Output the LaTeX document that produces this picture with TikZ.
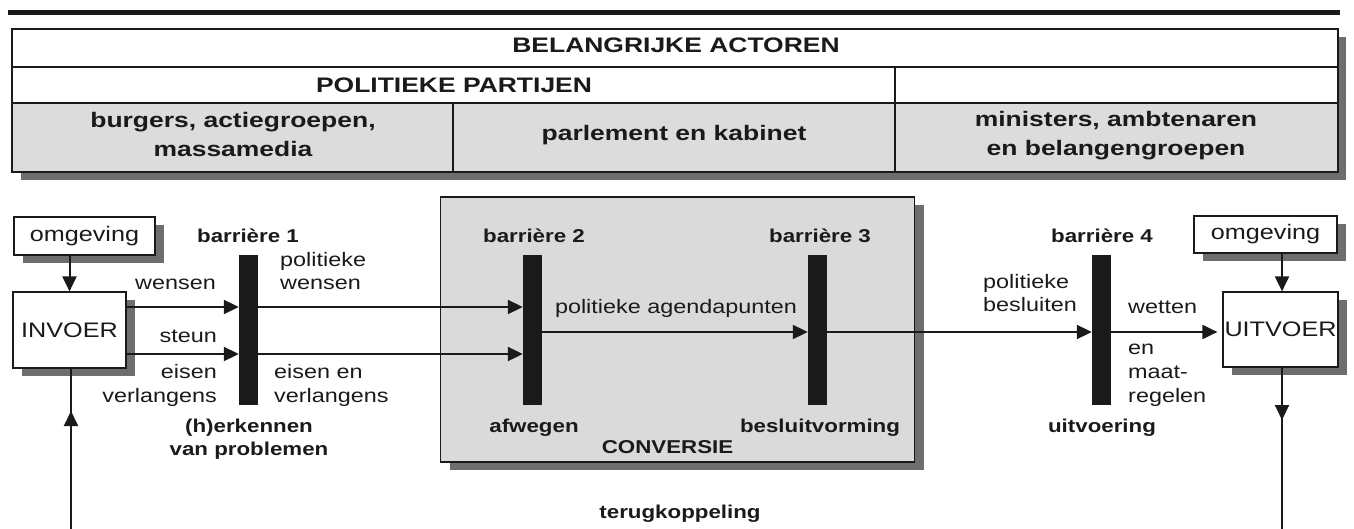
\documentclass[tikz,border=0pt]{standalone}
\usepackage{fontspec}
\setmainfont{Liberation Sans}[FakeStretch=1.2]
\newfontfamily\tabfont{Liberation Sans}[FakeStretch=1.26]
\usetikzlibrary{arrows.meta,shadows,calc}
\definecolor{shadowgray}{HTML}{6E6E6E}
\definecolor{rowgray}{HTML}{DCDCDC}
\definecolor{convgray}{HTML}{DADADA}
\definecolor{ink}{HTML}{1A1A1A}
\tikzset{
  lbl/.style={font=\fontsize{19.5}{24}\selectfont, inner sep=0pt, text=ink},
  blbl/.style={font=\fontsize{18.6}{22.5}\selectfont\bfseries, inner sep=0pt, text=ink},
  tabtxt/.style={font=\tabfont\fontsize{21}{29}\selectfont\bfseries, inner sep=0pt, text=ink, align=center},
  shadowbox/.style={draw=ink, line width=1.2pt, inner sep=0pt, text=ink,
     drop shadow={shadow xshift=9pt, shadow yshift=-8pt, fill=shadowgray, opacity=1}},
  bigbox/.style={shadowbox, fill=white, font=\fontsize{21}{25}\selectfont},
  barblk/.style={fill=ink, draw=none, minimum width=19pt, minimum height=150pt, inner sep=0pt},
  conn/.style={line width=2pt, draw=ink},
  arr/.style={conn, -{Triangle[width=14pt,length=15pt]}},
}
\begin{document}
\begin{tikzpicture}[x=1pt,y=-1pt]
\useasboundingbox (0,0) rectangle (1354,529);
% top rule
\draw[line width=5pt, ink] (8,12.5) -- (1340,12.5);
% table
\fill[shadowgray] (21,37) rectangle (1346,180);
\fill[white] (12,29) rectangle (1338,172);
\fill[rowgray] (12,103) rectangle (1338,172);
\draw[line width=1.2pt, ink] (12,29) rectangle (1338,172);
\draw[line width=1.2pt, ink] (12,67) -- (1338,67);
\draw[line width=1.2pt, ink] (12,103) -- (1338,103);
\draw[line width=1.2pt, ink] (895,67) -- (895,172);
\draw[line width=1.2pt, ink] (453,103) -- (453,172);
\node[tabtxt, anchor=base] (hdr) at (676,53) {BELANGRIJKE ACTOREN};
\node[tabtxt, anchor=base] (pp) at (454,93) {POLITIEKE PARTIJEN};
\node[tabtxt, anchor=base] (c1) at (233,157) {burgers, actiegroepen,\\massamedia};
\node[tabtxt, anchor=base] (c2) at (674,141) {parlement en kabinet};
\node[tabtxt, anchor=base] (c3) at (1116,156) {ministers, ambtenaren\\en belangengroepen};

% conversie box
\node[shadowbox, fill=convgray, minimum width=474pt, minimum height=265pt] (conv) at (677.5,329.5) {};
\node[blbl, anchor=base] (convlbl) at (667.5,453) {CONVERSIE};

% boxes
\node[bigbox, minimum width=141pt, minimum height=38pt] (omgL) at (84.5,236) {omgeving};
\node[bigbox, minimum width=113pt, minimum height=76pt] (invoer) at (69.5,330) {INVOER};
\node[bigbox, minimum width=143pt, minimum height=37pt] (omgR) at (1265.5,234.5) {omgeving};
\node[bigbox, minimum width=115pt, minimum height=75pt] (uitvoer) at (1280.5,329.5) {UITVOER};

% barriers
\node[barblk] (b1) at (248.5,330) {};
\node[barblk] (b2) at (532.5,330) {};
\node[barblk] (b3) at (817.5,330) {};
\node[barblk] (b4) at (1101.5,330) {};
\node[blbl, anchor=base] (b1t) at (248,243) {barrière 1};
\node[blbl, anchor=base] (b2t) at (534,243) {barrière 2};
\node[blbl, anchor=base] (b3t) at (820,243) {barrière 3};
\node[blbl, anchor=base] (b4t) at (1102,243) {barrière 4};
\node[blbl, anchor=base, align=center] (b1b) at (249,455) {(h)erkennen\\van problemen};
\node[blbl, anchor=base] (b2b) at (534,432) {afwegen};
\node[blbl, anchor=base] (b3b) at (820,432) {besluitvorming};
\node[blbl, anchor=base] (b4b) at (1102,432) {uitvoering};
\node[blbl, anchor=base] (fb) at (680,518) {terugkoppeling};

% coordinates for flows
\coordinate (wy) at (0,307);
\coordinate (sy) at (0,354);
\coordinate (ay) at (0,332);
\coordinate (ux) at (1282,0);
\coordinate (fbR) at (1282,529);
\coordinate (mR) at (1282,420);
\coordinate (fbL) at (71,529);
\coordinate (mL) at (71,411);

% arrows
\draw[arr] (invoer.north |- omgL.south) -- (invoer.north);
\draw[arr] (omgR.south -| ux) -- (uitvoer.north -| ux);
\draw[arr] (invoer.east |- wy) -- (b1.west |- wy);
\draw[arr] (invoer.east |- sy) -- (b1.west |- sy);
\draw[arr] (b1.east |- wy) -- (b2.west |- wy);
\draw[arr] (b1.east |- sy) -- (b2.west |- sy);
\draw[arr] (b2.east |- ay) -- (b3.west |- ay);
\draw[arr] (b3.east |- ay) -- (b4.west |- ay);
\draw[arr, shorten >=5pt] (b4.east |- ay) -- (uitvoer.west |- ay);
\draw[conn] (uitvoer.south -| fbR) -- (fbR);
\draw[arr] (uitvoer.south -| fbR) -- (mR);
\draw[conn] (fbL) -- (invoer.south -| fbL);
\draw[arr] (fbL) -- (mL);

% flow labels
\node[lbl, anchor=base east] (l1) at (216,290) {wensen};
\node[lbl, anchor=base east] (l2) at (217,342) {steun};
\node[lbl, anchor=base east, align=right] (l3) at (217,402) {eisen\\verlangens};
\node[lbl, anchor=base west, align=left] (l4) at (280,290) {politieke\\wensen};
\node[lbl, anchor=base west, align=left] (l5) at (274,402) {eisen en\\verlangens};
\node[lbl, anchor=base] (l6) at (676,313) {politieke agendapunten};
\node[lbl, anchor=base west, align=left] (l7) at (983,312) {politieke\\besluiten};
\node[lbl, anchor=base west] (l8) at (1128,313) {wetten};
\node[lbl, anchor=base west, align=left] (l9) at (1128,402) {en\\maat-\\regelen};
\end{tikzpicture}
\end{document}
